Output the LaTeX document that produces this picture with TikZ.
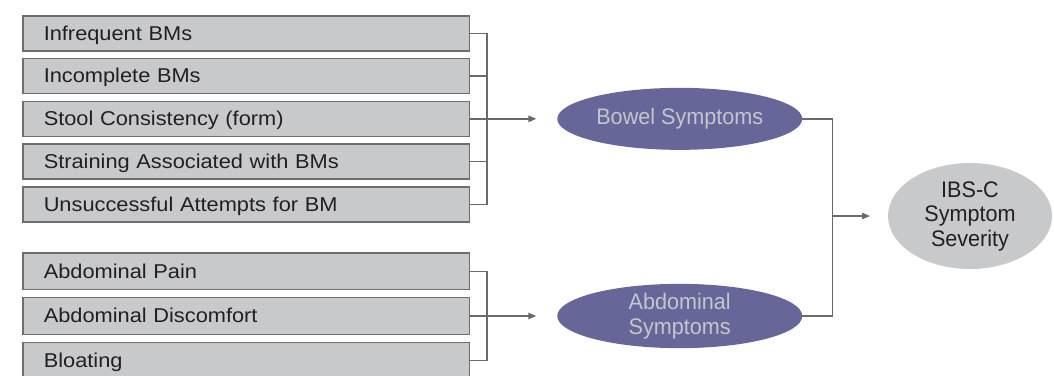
\documentclass[tikz,border=0pt]{standalone}
\usepackage{fontspec}
\setmainfont{Liberation Sans}
\newfontfamily\boxfont[FakeStretch=1.09]{Liberation Sans}
\newfontfamily\ovalfont[FakeStretch=0.96]{Liberation Sans}
\usetikzlibrary{arrows.meta, shapes.geometric, positioning}

\definecolor{boxgray}{HTML}{C8C9CB}
\definecolor{edgegray}{HTML}{6E6E6E}
\definecolor{linkgray}{HTML}{6A6A6A}
\definecolor{purp}{HTML}{666699}
\definecolor{purptext}{HTML}{C5C5CE}
\definecolor{ink}{HTML}{231F20}

\begin{document}
\begin{tikzpicture}[
  x=1pt, y=-1pt,
  node distance=7.8pt,
  item/.style={rectangle, draw=edgegray, line width=1.5pt, fill=boxgray,
               outer sep=0pt, text width=404.5pt, inner xsep=21pt,
               inner ysep=0pt, align=left, minimum height=35pt,
               text height=17pt, text depth=3.4pt,
               font=\boxfont\fontsize{20}{24}\selectfont, text=ink},
  symp/.style={ellipse, fill=purp, inner sep=0pt, outer sep=0pt,
               minimum width=245pt, minimum height=62pt, align=center,
               font=\ovalfont\fontsize{22.5}{24.5}\selectfont, text=purptext},
  total/.style={ellipse, fill=boxgray, inner sep=0pt, outer sep=0pt,
                minimum width=164pt, minimum height=106pt, align=center,
                font=\ovalfont\fontsize{22.5}{24.5}\selectfont, text=ink},
  link/.style={draw=linkgray, line width=1.5pt},
  arr/.style={link, -{Triangle[length=8pt, width=6.5pt]}}
]
\useasboundingbox (0,0) rectangle (1054,375);

\node[item, anchor=north west] (b1) at (22.75,15.75) {Infrequent BMs};
\node[item, below=of b1] (b2) {Incomplete BMs};
\node[item, below=of b2] (b3) {Stool Consistency (form)};
\node[item, below=of b3] (b4) {Straining Associated with BMs};
\node[item, below=of b4] (b5) {Unsuccessful Attempts for BM};

\node[item, minimum height=36.7pt, below=31pt of b5] (b6) {Abdominal Pain};
\node[item, minimum height=36.7pt, below=8pt of b6] (b7) {Abdominal Discomfort};
\node[item, minimum height=36.7pt, below=8pt of b7] (b8) {Bloating};

\node[symp, right=88pt of b3] (bowel) {Bowel Symptoms};
\node[symp, right=88pt of b7] (abd) {Abdominal\\Symptoms};
\node[total] (ibs) at (970,216) {IBS-C\\Symptom\\Severity};

\draw[link] (b1.east) -- ++(17.5,0) |- (b5.east);
\draw[link] (b2.east) -- ++(17.5,0);
\draw[link] (b4.east) -- ++(17.5,0);
\draw[arr, shorten >=21pt] (b3.east) -- (bowel.west);

\draw[link] (b6.east) -- ++(17.5,0) |- (b8.east);
\draw[arr, shorten >=21pt] (b7.east) -- (abd.west);

\draw[link] (bowel.east) -- ++(30,0) |- (abd.east);
\path ([xshift=30pt]bowel.east) coordinate (jt);
\coordinate (jr) at (jt |- ibs.west);
\draw[arr, shorten >=18pt] (jr) -- (ibs.west);

\end{tikzpicture}
\end{document}
